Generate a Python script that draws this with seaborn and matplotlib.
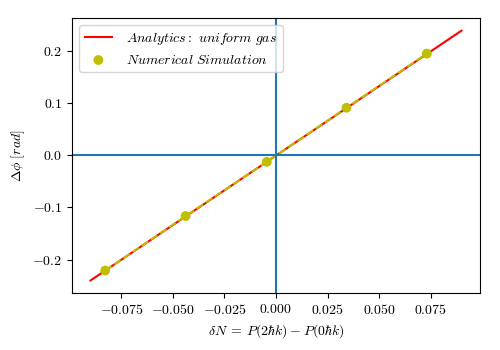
import matplotlib
matplotlib.use("Agg")
from matplotlib import pyplot as plt
import numpy as np
import pandas as pd
import seaborn as sns

# analytic curve (uniform gas) and simulation points
x_theory = [-0.09, 0.09]
y_theory = [-0.240, 0.239]

x_sim = [-0.0829, -0.0439, -0.00445, 0.0342, 0.0732]
y_sim = [-0.2210, -0.1165, -0.0125, 0.0912, 0.1950]

plt.rcParams['font.family'] = 'serif'
plt.rcParams['font.serif'] = ['cmr10']
plt.rcParams['mathtext.fontset'] = 'cm'
plt.rcParams['axes.formatter.use_mathtext'] = True

df_th = pd.DataFrame({'x': x_theory, 'y': y_theory})
df_sim = pd.DataFrame({'x': x_sim, 'y': y_sim})

fig, ax = plt.subplots(figsize=(5, 3.5), dpi=100)

sns.lineplot(data=df_th, x='x', y='y', color='r', lw=1.5,
             label=r'$Analytics:\ uniform\ gas$', ax=ax)
sns.lineplot(data=df_sim, x='x', y='y', color='y', lw=1.5,
             linestyle='--', ax=ax)
sns.scatterplot(data=df_sim, x='x', y='y', color='y', s=50, edgecolor='none',
                label=r'$Numerical\ Simulation$', ax=ax, zorder=3)

ax.axhline(0, color='C0', lw=1.5)
ax.axvline(0, color='C0', lw=1.5)

ax.set_xticks([-0.075, -0.05, -0.025, 0, 0.025, 0.05, 0.075])
ax.set_yticks([-0.2, -0.1, 0, 0.1, 0.2])
ax.set_xlabel(r'$\delta N \:=\: P(2\hbar k) \:-\: P(0\hbar k)$')
ax.set_ylabel(r'$\Delta\phi\ [rad]$')
ax.legend(loc='upper left', handletextpad=1.0)

plt.subplots_adjust(left=0.144, right=0.96, top=0.948, bottom=0.163)
plt.savefig('out.png', dpi=100)
